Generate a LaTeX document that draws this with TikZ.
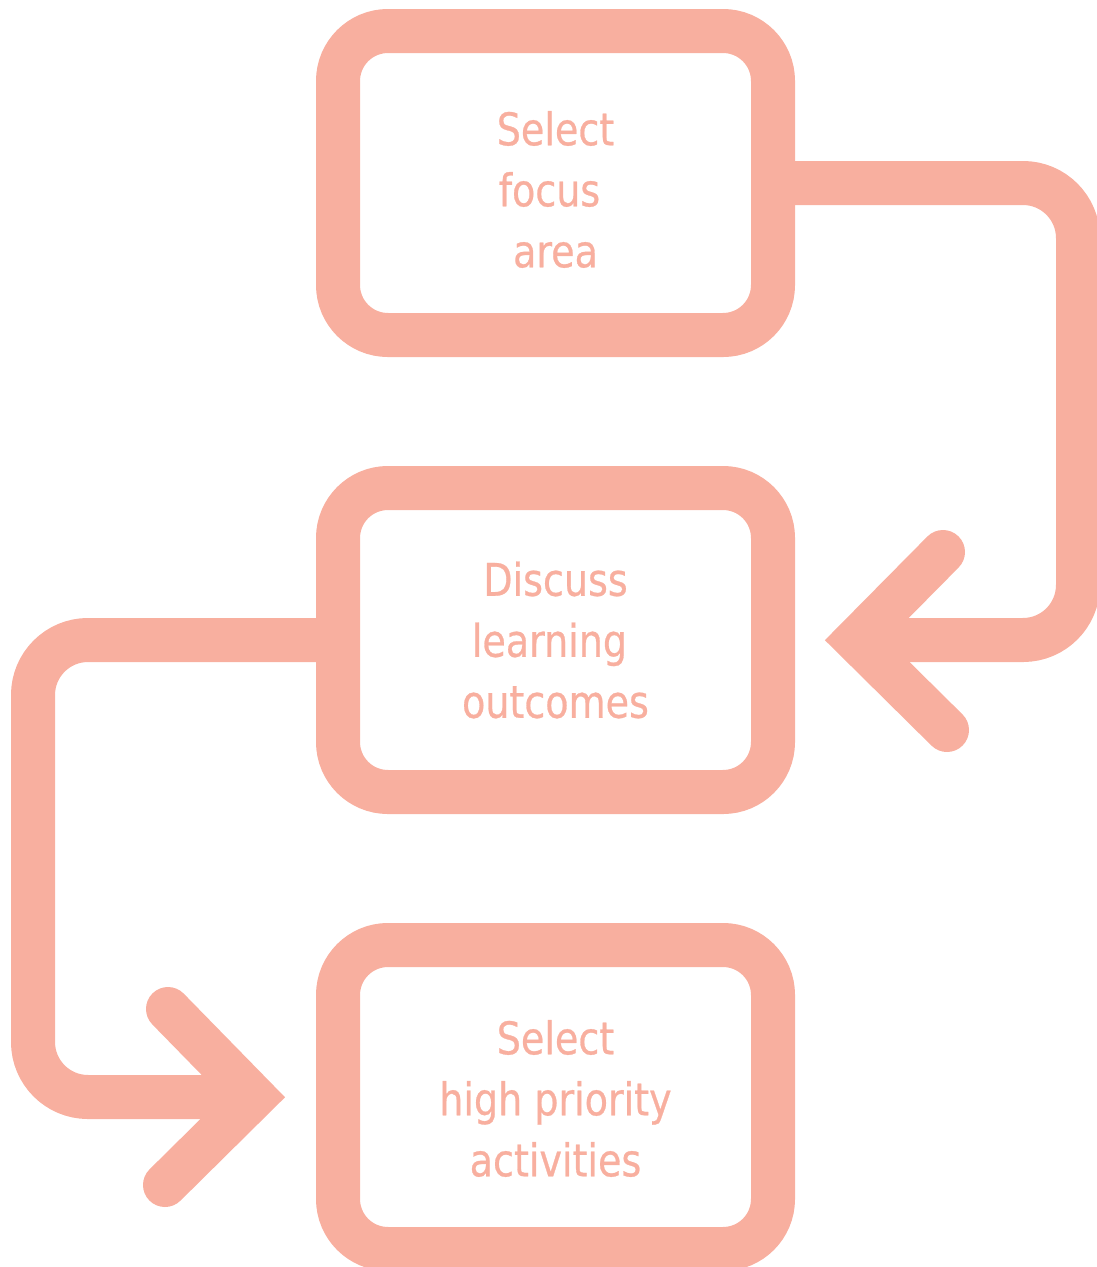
\documentclass[tikz,border=0pt]{standalone}
\usepackage{fontspec}
\newfontfamily\labelfont[FakeStretch=0.94,FakeBold=0.6]{DejaVu Sans Condensed}
\usetikzlibrary{calc}
\definecolor{salmon}{HTML}{F8AF9F}
\begin{document}
\begin{tikzpicture}[x=1pt,y=-1pt,
  stepbox/.style={draw=salmon, line width=44pt, rounded corners=50pt,
    minimum width=435pt, minimum height=304pt, inner sep=0pt, outer sep=0pt},
  flow/.style={draw=salmon, line width=44pt, rounded corners=55pt},
  chevron/.style={draw=salmon, line width=44pt, line cap=round, line join=miter},
  caption/.style={text=salmon, font=\labelfont\fontsize{45}{61}\selectfont,
    align=center, inner sep=0pt}]
\useasboundingbox (0,0) rectangle (1096,1267);

% the three steps
\node[stepbox] (b1) at (555.5,183) {};
\node[stepbox] (b2) at (555.5,640) {};
\node[stepbox] (b3) at (555.5,1097) {};

\node[caption, yshift=-6.5pt] (t1) at (b1) {Select\\focus\hphantom{ }\\area};
\node[caption] (t2) at (b2) {Discuss\\learning\hphantom{ }\\outcomes};
\node[caption, yshift=-1.5pt] (t3) at (b3) {Select\\high priority\\activities};

% arrow tips (vertex of each chevron)
\coordinate (tip1) at ($(b2.east)+(83,0)$);
\coordinate (tip2) at ($(b3.west)+(-84,0)$);

% connectors
\draw[flow] (b1.east) -- ++(305,0) |- (tip1);
\draw[chevron] ($(tip1)+(87,-88)$) -- (tip1) -- ($(tip1)+(91,90)$);

\draw[flow] (b2.west) -- ++(-305,0) |- (tip2);
\draw[chevron] ($(tip2)+(-86,-88)$) -- (tip2) -- ($(tip2)+(-89,88)$);
\end{tikzpicture}
\end{document}
